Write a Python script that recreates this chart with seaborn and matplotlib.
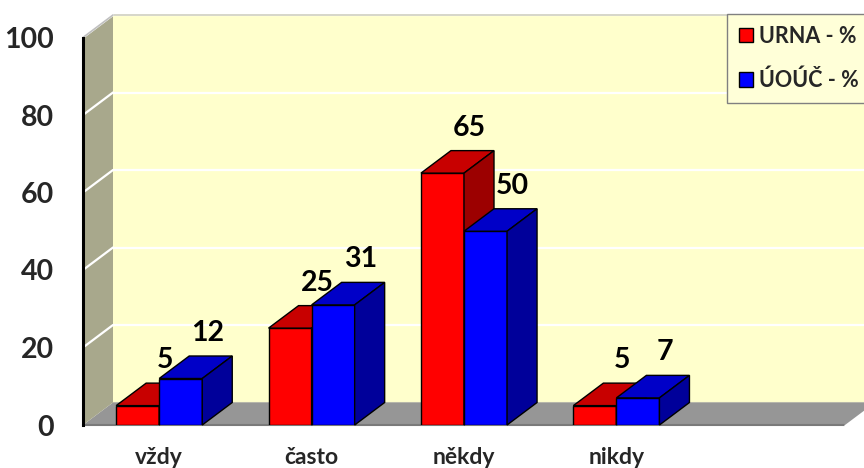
import numpy as np
import pandas as pd
import matplotlib
matplotlib.use("Agg")
import matplotlib.pyplot as plt
from matplotlib.patches import Polygon
import seaborn as sns

# ---- data ----
categories = ["vždy", "často", "někdy", "nikdy"]
series_names = ["URNA - %", "ÚOÚČ - %"]
urna = [5, 25, 65, 5]
uouc = [12, 31, 50, 7]
y_ticks = [0, 20, 40, 60, 80, 100]

df = pd.DataFrame({
    "kategorie": categories * 2,
    "hodnota": urna + uouc,
    "serie": [series_names[0]] * len(categories) + [series_names[1]] * len(categories),
})

sns.set_style("white")
plt.rcParams["font.family"] = ["Lato", "DejaVu Sans"]

front_cols = ["#ff0000", "#0000ff"]
top_cols = ["#c80000", "#0000c8"]
side_cols = ["#9c0000", "#00009a"]

W, H = 864, 468
fig = plt.figure(figsize=(W / 100, H / 100), dpi=100)
fig.patch.set_facecolor("white")
ax_l, ax_b, ax_w, ax_h = 83, 43, 762, 387.5
ax = fig.add_axes([ax_l / W, ax_b / H, ax_w / W, ax_h / H])
ax.set_facecolor("none")

sns.barplot(data=df, x="kategorie", y="hodnota", hue="serie",
            order=categories, hue_order=series_names,
            palette=front_cols, saturation=1, width=0.565, gap=0,
            edgecolor="black", linewidth=1.0, ax=ax, legend=True)

ax.set_xlim(-0.5, 4.5)
ax.set_ylim(0, 100)
PX_X = ax_w / 5.0
PX_Y = ax_h / 100.0
DX = 30 / PX_X
DY = 22.5 / PX_Y

x0, x1 = -0.5, 4.5
# back wall
ax.add_patch(Polygon([(x0 + DX, DY), (x1 + DX + 1, DY), (x1 + DX + 1, 100 + DY), (x0 + DX, 100 + DY)],
                     closed=True, facecolor="#ffffcc", edgecolor="none", zorder=0.1, clip_on=False))
for v in y_ticks[1:]:
    ax.plot([x0 + DX, x1 + DX + 1], [v + DY, v + DY], color="white", lw=1.6, zorder=0.2, clip_on=False)
ax.plot([x0 + DX, x1 + DX + 1], [100 + DY, 100 + DY], color="#d0d0c0", lw=1.2, zorder=0.25, clip_on=False)
ax.plot([x0 + DX, x1 + DX + 1], [DY, DY], color="#d8d8c0", lw=1.5, zorder=0.25, clip_on=False)
# floor
ax.add_patch(Polygon([(x0, 0), (x1, 0), (x1 + DX, DY), (x0 + DX, DY)],
                     closed=True, facecolor="#969696", edgecolor="none", zorder=0.3, clip_on=False))
# side wall
ax.add_patch(Polygon([(x0, 0), (x0, 100), (x0 + DX, 100 + DY), (x0 + DX, DY)],
                     closed=True, facecolor="#a8a88c", edgecolor="none", zorder=0.4, clip_on=False))
for v in y_ticks[1:]:
    ax.plot([x0, x0 + DX], [v, v + DY], color="white", lw=1.6, zorder=0.45, clip_on=False)
ax.plot([x0, x0 + DX], [100, 100 + DY], color="#c0c0c0", lw=1.2, zorder=0.46, clip_on=False)

# 3D faces of the bars
for si, cont in enumerate(ax.containers):
    base_z = 3 + si
    for bar in cont:
        bx = bar.get_x()
        bw = bar.get_width()
        bh = bar.get_height()
        bar.set_zorder(base_z)
        top = Polygon([(bx, bh), (bx + bw, bh), (bx + bw + DX, bh + DY), (bx + DX, bh + DY)],
                      closed=True, facecolor=top_cols[si], edgecolor="black", lw=1.0,
                      zorder=base_z + 0.1, clip_on=False)
        side = Polygon([(bx + bw, 0), (bx + bw, bh), (bx + bw + DX, bh + DY), (bx + bw + DX, DY)],
                       closed=True, facecolor=side_cols[si], edgecolor="black", lw=1.0,
                       zorder=base_z + 0.1, clip_on=False)
        ax.add_patch(top)
        ax.add_patch(side)
        ax.text(bx + bw / 2 + 27 / PX_X, bh + DY + 23 / PX_Y, f"{bh:.0f}",
                ha="center", va="center", fontsize=20.5, fontweight="bold",
                color="black", zorder=10)

# axes styling
for s in ["top", "right"]:
    ax.spines[s].set_visible(False)
ax.spines["left"].set_color("black")
ax.spines["left"].set_linewidth(2.2)
ax.spines["left"].set_zorder(5)
ax.spines["bottom"].set_color("#7a7a7a")
ax.spines["bottom"].set_linewidth(1.5)
ax.spines["bottom"].set_linestyle((0, (1, 1)))

ax.set_yticks(y_ticks)
ax.set_yticklabels([str(v) for v in y_ticks], fontsize=20.5, fontweight="bold")
ax.tick_params(axis="y", length=8, width=1.2, color="black", pad=13, direction="out")

ax.set_xticks(range(len(categories)))
ax.set_xticklabels(categories, fontsize=16.5, fontweight="bold")
ax.set_xticks(np.arange(-0.5, 4.6, 1), minor=True)
ax.tick_params(axis="x", which="major", length=0, pad=16)
ax.tick_params(axis="x", which="minor", length=6, width=1, color="#7a7a7a", direction="out")
ax.set_xlabel("")
ax.set_ylabel("")
ax.grid(False)

handles, labels = ax.get_legend_handles_labels()
ax.get_legend().remove()
leg = fig.legend(handles, labels, loc="upper left",
                 bbox_to_anchor=(727 / W, 1 - 14 / H), bbox_transform=fig.transFigure,
                 prop={"weight": "bold", "size": 15.5}, frameon=True, fancybox=False,
                 handlelength=0.65, handleheight=0.65, handletextpad=0.3,
                 labelspacing=1.05, borderpad=0.55, borderaxespad=0)
leg.get_frame().set_facecolor("#ffffd8")
leg.get_frame().set_edgecolor("#808080")
leg.get_frame().set_linewidth(1.0)
leg.get_frame().set_alpha(1)

fig.savefig("out.png", dpi=100)
